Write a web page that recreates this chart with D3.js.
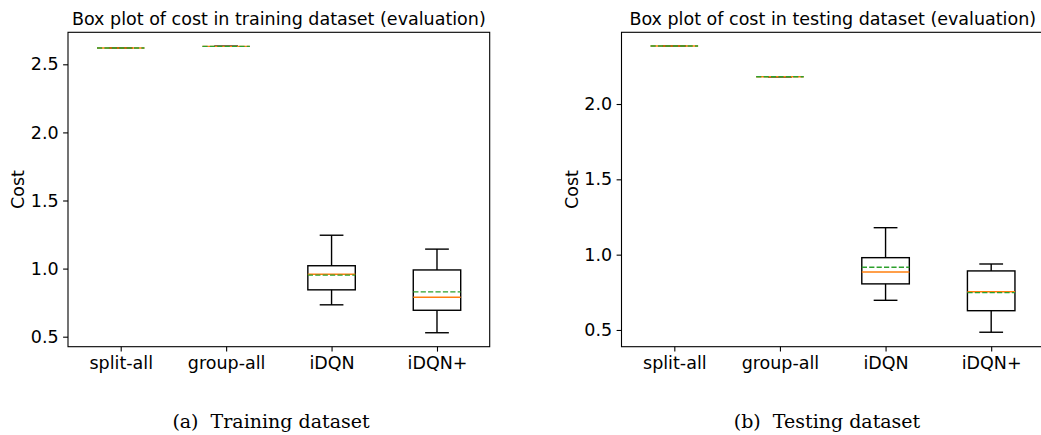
<!DOCTYPE html>
<html>
<head>
<meta charset="utf-8">
<script src="https://cdn.jsdelivr.net/npm/d3@7"></script>
<style>
  body { margin: 0; background: #fff; }
  svg { display: block; }
</style>
</head>
<body>
<script>
// data
const categories = ["split-all", "group-all", "iDQN", "iDQN+"];

const trainLow    = [2.620, 2.632, 0.734, 0.529];
const trainQ1     = [2.620, 2.632, 0.844, 0.694];
const trainMedian = [2.620, 2.632, 0.958, 0.790];
const trainQ3     = [2.620, 2.632, 1.021, 0.990];
const trainHigh   = [2.620, 2.632, 1.245, 1.143];
const trainMean   = [2.620, 2.632, 0.952, 0.829];

const testLow    = [2.385, 2.181, 0.697, 0.485];
const testQ1     = [2.385, 2.181, 0.806, 0.628];
const testMedian = [2.385, 2.181, 0.885, 0.754];
const testQ3     = [2.385, 2.181, 0.980, 0.892];
const testHigh   = [2.385, 2.181, 1.179, 0.938];
const testMean   = [2.385, 2.181, 0.916, 0.748];

const trainTicks = [0.5, 1.0, 1.5, 2.0, 2.5];
const testTicks = [0.5, 1.0, 1.5, 2.0];

const W = 1041, H = 435;
const svg = d3.select("body").append("svg")
    .attr("width", W)
    .attr("height", H);

const font = "'DejaVu Sans', sans-serif";
const fs = 17.5;

function panel(opts) {
    const x = d3.scaleLinear().domain([0.5, 4.5]).range([opts.left, opts.right]);
    const y = d3.scaleLinear().domain(opts.ydomain).range([opts.bottom, opts.top]);
    const g = svg.append("g");

    const rows = categories.map((c, i) => ({
        name: c, pos: i + 1,
        low: opts.low[i], q1: opts.q1[i], med: opts.median[i],
        q3: opts.q3[i], high: opts.high[i], mean: opts.mean[i]
    }));

    const boxW = 0.45, capW = 0.225;
    const lw = 1.4;

    const b = g.selectAll("g.box").data(rows).enter().append("g").attr("class", "box");
    // whiskers
    b.append("line")
        .attr("x1", d => x(d.pos)).attr("x2", d => x(d.pos))
        .attr("y1", d => y(d.q3)).attr("y2", d => y(d.high))
        .attr("stroke", "#000").attr("stroke-width", lw);
    b.append("line")
        .attr("x1", d => x(d.pos)).attr("x2", d => x(d.pos))
        .attr("y1", d => y(d.q1)).attr("y2", d => y(d.low))
        .attr("stroke", "#000").attr("stroke-width", lw);
    // caps
    b.append("line")
        .attr("x1", d => x(d.pos - capW / 2)).attr("x2", d => x(d.pos + capW / 2))
        .attr("y1", d => y(d.high)).attr("y2", d => y(d.high))
        .attr("stroke", "#000").attr("stroke-width", lw);
    b.append("line")
        .attr("x1", d => x(d.pos - capW / 2)).attr("x2", d => x(d.pos + capW / 2))
        .attr("y1", d => y(d.low)).attr("y2", d => y(d.low))
        .attr("stroke", "#000").attr("stroke-width", lw);
    // box
    b.append("rect")
        .attr("x", d => x(d.pos - boxW / 2))
        .attr("width", d => x(d.pos + boxW / 2) - x(d.pos - boxW / 2))
        .attr("y", d => y(d.q3))
        .attr("height", d => y(d.q1) - y(d.q3))
        .attr("fill", "none")
        .attr("stroke", "#000").attr("stroke-width", lw);
    // median
    b.append("line")
        .attr("x1", d => x(d.pos - boxW / 2)).attr("x2", d => x(d.pos + boxW / 2))
        .attr("y1", d => y(d.med)).attr("y2", d => y(d.med))
        .attr("stroke", "#ff7f0e").attr("stroke-width", lw);
    // mean
    b.append("line")
        .attr("x1", d => x(d.pos - boxW / 2)).attr("x2", d => x(d.pos + boxW / 2))
        .attr("y1", d => y(d.mean)).attr("y2", d => y(d.mean))
        .attr("stroke", "#2ca02c").attr("stroke-width", lw)
        .attr("stroke-dasharray", "5.2,2.2");

    // axes
    const ax = g.append("g")
        .attr("transform", `translate(0,${opts.bottom})`)
        .call(d3.axisBottom(x).tickValues([1, 2, 3, 4])
            .tickFormat((d, i) => categories[i]).tickSize(4.9).tickPadding(4.5));
    const ay = g.append("g")
        .attr("transform", `translate(${opts.left},0)`)
        .call(d3.axisLeft(y).tickValues(opts.ticks)
            .tickFormat(d3.format(".1f")).tickSize(4.9).tickPadding(4.5));
    [ax, ay].forEach(a => {
        a.select(".domain").remove();
        a.selectAll("line").attr("stroke", "#000").attr("stroke-width", 1.1);
        a.selectAll("text").attr("fill", "#000")
            .style("font-family", font).style("font-size", fs + "px");
    });

    // frame
    g.append("rect")
        .attr("x", opts.left).attr("y", opts.top)
        .attr("width", opts.right - opts.left)
        .attr("height", opts.bottom - opts.top)
        .attr("fill", "none")
        .attr("stroke", "#000").attr("stroke-width", 1.1);

    // title
    g.append("text")
        .attr("x", (opts.left + opts.right) / 2).attr("y", 25)
        .attr("text-anchor", "middle")
        .style("font-family", font).style("font-size", fs + "px")
        .text(opts.title);

    // y label
    g.append("text")
        .attr("transform", `translate(${opts.ylabelX},${(opts.top + opts.bottom) / 2}) rotate(-90)`)
        .attr("text-anchor", "middle")
        .attr("dy", "0.35em")
        .style("font-family", font).style("font-size", fs + "px")
        .text("Cost");

    // caption
    svg.append("text")
        .attr("x", opts.captionX).attr("y", 428)
        .attr("text-anchor", "middle")
        .style("font-family", "'DejaVu Serif', serif").style("font-size", "19px")
        .attr("xml:space", "preserve")
        .text(opts.caption);
}

panel({
    left: 68, right: 489.7, top: 32.3, bottom: 346.7,
    ydomain: [0.4265, 2.735], ticks: trainTicks,
    low: trainLow, q1: trainQ1, median: trainMedian, q3: trainQ3, high: trainHigh, mean: trainMean,
    title: "Box plot of cost in training dataset (evaluation)",
    ylabelX: 18, captionX: 271, caption: "(a)  Training dataset"
});

panel({
    left: 621.5, right: 1044, top: 32.3, bottom: 346.7,
    ydomain: [0.389, 2.476], ticks: testTicks,
    low: testLow, q1: testQ1, median: testMedian, q3: testQ3, high: testHigh, mean: testMean,
    title: "Box plot of cost in testing dataset (evaluation)",
    ylabelX: 572, captionX: 827, caption: "(b)  Testing dataset"
});
</script>
</body>
</html>
